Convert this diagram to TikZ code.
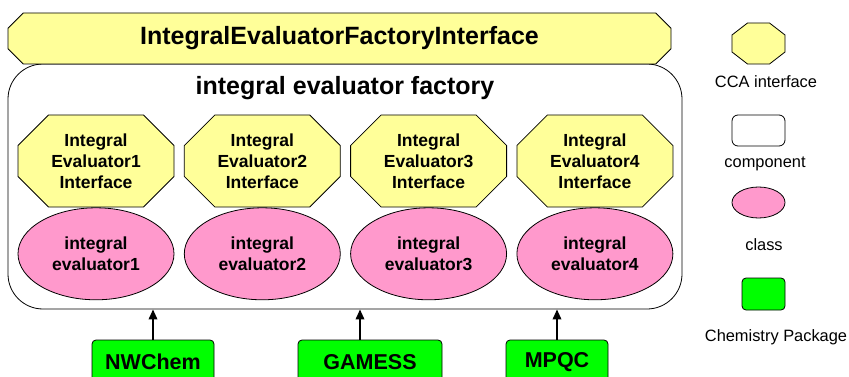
\documentclass[tikz,border=0pt]{standalone}
\usepackage{fontspec}
\setmainfont{Liberation Sans}
\usetikzlibrary{arrows.meta,positioning,shapes.geometric,shapes.misc}
\definecolor{ifaceyellow}{HTML}{FFFF99}
\definecolor{classpink}{HTML}{FF99CC}
\definecolor{pkggreen}{HTML}{00FF00}
\tikzset{
    %Define standard arrow tip
    >={Triangle[length=10pt,width=8.5pt]},
    %Define style for interfaces
    iface/.style={
           chamfered rectangle,
           chamfered rectangle xsep=27pt,
           draw=black, fill=ifaceyellow,
           minimum width=156pt,
           minimum height=92pt,
           inner sep=0pt,
           align=center,
           font=\bfseries\fontsize{17.5}{21}\selectfont},
    % Define style for classes
    klass/.style={
           ellipse,
           draw=black, fill=classpink,
           minimum width=156pt,
           minimum height=92pt,
           inner sep=0pt,
           align=center,
           font=\bfseries\fontsize{17.5}{21}\selectfont},
    % Define style for packages
    pkg/.style={
           rectangle,
           rounded corners=4pt,
           draw=black, fill=pkggreen,
           minimum height=44pt,
           font=\bfseries\fontsize{21.5}{24}\selectfont},
    % Define style for legend texts
    legtext/.style={
           font=\fontsize{16.4}{19}\selectfont},
    % Define arrow style
    uses/.style={
           ->,
           line width=1.8pt}
}
\begin{document}
\begin{tikzpicture}[x=1pt, y=-1pt, line width=0.8pt]
 \clip (0,0) rectangle (849,377);

 % component
 \node[draw=black, fill=white, rounded corners=35pt,
       minimum width=674pt, minimum height=245pt] (factory) at (345,186.5) {};
 \node[font=\bfseries\fontsize{25}{28}\selectfont] (title) at (345,88)
   {integral evaluator factory};

 % top interface
 \node[iface, chamfered rectangle xsep=16pt,
       minimum width=663pt, minimum height=51pt,
       font=\bfseries\fontsize{25}{28}\selectfont] (factoryif) at (339.5,38.5)
   {IntegralEvaluatorFactoryInterface};

 % evaluators
 \node[iface] (ifone) at (96,161) {Integral\\Evaluator1\\Interface};
 \node[iface, right=9.5pt of ifone] (iftwo) {Integral\\Evaluator2\\Interface};
 \node[iface, right=9.5pt of iftwo] (ifthree) {Integral\\Evaluator3\\Interface};
 \node[iface, right=9.5pt of ifthree] (iffour) {Integral\\Evaluator4\\Interface};
 \node[klass, below=0pt of ifone] (evone) {integral\\evaluator1};
 \node[klass, below=0pt of iftwo] (evtwo) {integral\\evaluator2};
 \node[klass, below=0pt of ifthree] (evthree) {integral\\evaluator3};
 \node[klass, below=0pt of iffour] (evfour) {integral\\evaluator4};

 % packages
 \node[pkg, minimum width=122pt] (nwchem) at (153,362) {NWChem};
 \node[pkg, minimum width=144pt] (gamess) at (370,362) {GAMESS};
 \node[pkg, minimum width=102pt] (mpqc) at (557,362) {MPQC};
 \draw[uses] (nwchem.north) -- (nwchem.north |- factory.south);
 \draw[uses] ([xshift=-10pt]gamess.north) -- ([xshift=-10pt]gamess.north |- factory.south);
 \draw[uses] (mpqc.north) -- (mpqc.north |- factory.south);

 % legend
 \begin{scope}[shift={(758.5,43.5)}, yscale=0.774]
  \node[regular polygon, regular polygon sides=8, minimum size=57.4pt,
        inner sep=0pt, draw=black, fill=ifaceyellow, transform shape] (legif) at (0,0) {};
 \end{scope}
 \node[legtext] (legiftext) at (766,82) {CCA interface};
 \node[draw=black, fill=white, rounded corners=6pt,
       minimum width=53pt, minimum height=31pt] (legcomp) at (758.5,130.5) {};
 \node[legtext] (legcomptext) at (765,164) {component};
 \node[klass, minimum width=53pt, minimum height=31pt] (legcls) at (758.5,202.5) {};
 \node[legtext] (legclstext) at (764,245) {class};
 \node[pkg, minimum width=43pt, minimum height=32pt] (legpkg) at (763.5,294) {};
 \node[legtext] (legpkgtext) at (776,337) {Chemistry Package};
\end{tikzpicture}
\end{document}
